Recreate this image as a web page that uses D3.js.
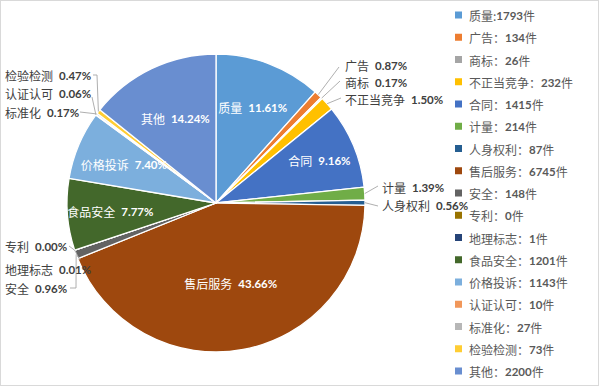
<!DOCTYPE html>
<html><head><meta charset="utf-8">
<script src="https://cdn.jsdelivr.net/npm/d3@7"></script>
<style>
html,body{margin:0;padding:0;background:#fff;}
svg{display:block;}
</style></head>
<body>
<svg id="chart" width="600" height="387"></svg>
<script>
// ---- data ----
const categories = ["质量","广告","商标","不正当竞争","合同","计量","人身权利","售后服务","安全","专利","地理标志","食品安全","价格投诉","认证认可","标准化","检验检测","其他"];
const counts = [1793,134,26,232,1415,214,87,6745,148,0,1,1201,1143,10,27,73,2200];
const colors = ["#5B9BD5","#ED7D31","#A5A5A5","#FFC000","#4472C4","#70AD47","#255E91","#9E480E","#636363","#997300","#264478","#43682B","#7CAFDD","#F1975A","#B7B7B7","#FFCD33","#698ED0"];
const legendSeparators = ["：","：","：","：","：","：","：","：","：","：","：","：","：","：","：","：","："];
legendSeparators[0] = ":";
const unitLabel = "件";

// ---- layout ----
const cx = 216, cy = 203, R = 149;
const svg = d3.select("#chart");
svg.append("rect").attr("x",0.5).attr("y",0.5).attr("width",598).attr("height",385)
  .attr("fill","#fff").attr("stroke","#D9D9D9").attr("stroke-width",1);

const total = d3.sum(counts);
const data = categories.map((c,i)=>({name:c, value:counts[i], color:colors[i], i}));
const pie = d3.pie().value(d=>d.value).sort(null);
const arcs = pie(data);
const arc = d3.arc().innerRadius(0).outerRadius(R);
const g = svg.append("g").attr("transform",`translate(${cx},${cy})`);

g.selectAll("path").data(arcs).join("path")
  .attr("d",arc).attr("fill",d=>d.data.color)
  .attr("stroke","#fff").attr("stroke-width",1.3).attr("stroke-linejoin","round");

const pct = v => (v/total*100).toFixed(2)+"%";
const cjk = "'Noto Sans CJK SC','Noto Sans',sans-serif";
const num = "Lato,'Open Sans','Liberation Sans',sans-serif";

function label(parent, x, y, name, value, color, anchor){
  const t = parent.append("text").attr("x",x).attr("y",y)
    .attr("dominant-baseline","central").attr("text-anchor",anchor||"start")
    .attr("fill",color);
  t.append("tspan").style("font-family",cjk).style("font-size","12px").text(name);
  t.append("tspan").style("font-family",num).style("font-size","11.5px").style("font-weight","bold").attr("dx",6).text(value);
  return t;
}

// inside labels: radius per category
const insideR = {"质量":103,"合同":112,"售后服务":81,"食品安全":106,"价格投诉":100,"其他":94};
arcs.forEach(a=>{
  const n = a.data.name;
  if(insideR[n]!==undefined){
    const m = (a.startAngle+a.endAngle)/2, r = insideR[n];
    label(g, Math.sin(m)*r, -Math.cos(m)*r, n, pct(a.data.value), "#fff", "middle");
  }
});

// outside labels: text position (absolute) and leader end
const outside = {
  "广告":      {tx:345, ty:65,  line:[[339,67]]},
  "商标":      {tx:345, ty:82,  line:[[340,81]]},
  "不正当竞争":{tx:345, ty:99,  line:[[341,98]]},
  "计量":      {tx:382, ty:187, line:[[378,186]]},
  "人身权利":  {tx:382, ty:205, line:[[378,206]]},
  "检验检测":  {tx:5,   ty:75,  line:[[97,75],[93,75]]},
  "认证认可":  {tx:5,   ty:93,  line:[[92,97]]},
  "标准化":    {tx:5,   ty:112, line:[[80,112]]},
  "专利":      {tx:5,   ty:246, line:[[69,246]]},
  "地理标志":  {tx:5,   ty:269, line:[[80,260]]},
  "安全":      {tx:5,   ty:288, line:[[76,288],[70,288]]}
};
const lineG = svg.append("g");
arcs.forEach(a=>{
  const o = outside[a.data.name];
  if(!o) return;
  const m = (a.startAngle+a.endAngle)/2;
  const p0 = [cx+Math.sin(m)*R, cy-Math.cos(m)*R];
  const pts = [p0].concat(o.line);
  lineG.append("path").attr("d",d3.line()(pts)).attr("fill","none")
    .attr("stroke","#A6A6A6").attr("stroke-width",0.9);
  label(svg, o.tx, o.ty, a.data.name, pct(a.data.value), "#404040", "start");
});

// legend
const lg = svg.append("g");
const ly = d3.scalePoint().domain(categories).range([15,371]);
categories.forEach((c,i)=>{
  const y = ly(c);
  lg.append("rect").attr("x",455).attr("y",y-3.5).attr("width",7).attr("height",7).attr("fill",colors[i]);
  const t = lg.append("text").attr("x",469).attr("y",y).attr("dominant-baseline","central")
    .attr("fill","#595959");
  t.append("tspan").style("font-family",cjk).style("font-size","12px").text(c+legendSeparators[i]);
  t.append("tspan").style("font-family",num).style("font-size","11.5px").style("font-weight","bold").text(counts[i]);
  t.append("tspan").style("font-family",cjk).style("font-size","12px").text(unitLabel);
});
</script>
</body></html>
